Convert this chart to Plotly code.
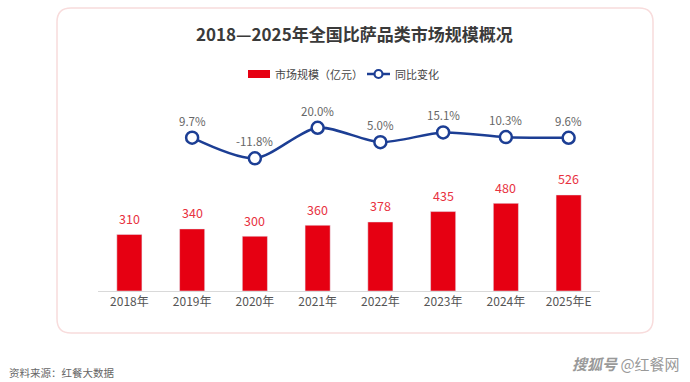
import plotly.graph_objects as go

years = ["2018年", "2019年", "2020年", "2021年", "2022年", "2023年", "2024年", "2025年E"]
market = [310, 340, 300, 360, 378, 435, 480, 526]
yoy_years = ["2019年", "2020年", "2021年", "2022年", "2023年", "2024年", "2025年E"]
yoy = [9.7, -11.8, 20.0, 5.0, 15.1, 10.3, 9.6]

W, H = 690, 382
L, R, T, B = 98, 90, 95, 91
PW, PH = W - L - R, H - T - B

def px(x):
    return (x - L) / PW

def py(y):
    return (H - B - y) / PH

FONT = "Noto Sans CJK SC, Noto Sans, sans-serif"
RED = "#e60012"
BLUE = "#1c3e94"

fig = go.Figure()
fig.add_trace(go.Bar(
    x=years, y=market, name="市场规模（亿元）",
    marker=dict(color=RED), width=0.4, showlegend=False,
))
fig.add_trace(go.Scatter(
    x=yoy_years, y=yoy, name="同比变化", yaxis="y2",
    mode="lines+markers", showlegend=False,
    line=dict(color=BLUE, width=2.5, shape="spline", smoothing=0.8),
    marker=dict(size=12, color="white", line=dict(color=BLUE, width=2.5)),
    cliponaxis=False,
))

annotations = []
for c, v in zip(years, market):
    annotations.append(dict(x=c, y=v, xref="x", yref="y", text=str(v), showarrow=False,
                            yanchor="middle", yshift=16,
                            font=dict(color="#e8323f", size=12.5)))
for c, v in zip(yoy_years, yoy):
    annotations.append(dict(x=c, y=v, xref="x", yref="y2", text=f"{v:.1f}%", showarrow=False,
                            yanchor="middle", yshift=17,
                            font=dict(color="#666666", size=11.5)))

# rounded border box
x0, x1, y0, y1, r = px(57), px(653), py(8), py(333), 14
rx, ry = r / PW, r / PH
path = (f"M {x0+rx},{y0} L {x1-rx},{y0} Q {x1},{y0} {x1},{y0-ry} "
        f"L {x1},{y1+ry} Q {x1},{y1} {x1-rx},{y1} L {x0+rx},{y1} "
        f"Q {x0},{y1} {x0},{y1+ry} L {x0},{y0-ry} Q {x0},{y0} {x0+rx},{y0} Z")

shapes = [
    dict(type="path", xref="paper", yref="paper", path=path,
         line=dict(color="#f8dcdc", width=1.5), fillcolor="rgba(0,0,0,0)", layer="below"),
    dict(type="rect", xref="paper", yref="paper", x0=px(248), x1=px(270), y0=py(78), y1=py(70),
         line=dict(width=0), fillcolor=RED),
    dict(type="line", xref="paper", yref="paper", x0=px(367), x1=px(390), y0=py(74), y1=py(74),
         line=dict(color=BLUE, width=2.5)),
    dict(type="circle", xref="paper", yref="paper", x0=px(374.5), x1=px(382.5), y0=py(78), y1=py(70),
         line=dict(color=BLUE, width=2.2), fillcolor="white"),
]

annotations += [
    dict(text="市场规模（亿元）", xref="paper", yref="paper", x=px(273), y=py(74),
         xanchor="left", yanchor="middle", showarrow=False, font=dict(size=11, color="#444444")),
    dict(text="同比变化", xref="paper", yref="paper", x=px(393), y=py(74),
         xanchor="left", yanchor="middle", showarrow=False, font=dict(size=11, color="#444444")),
    dict(text="<b>2018—2025年全国比萨品类市场规模概况</b>", xref="paper", yref="paper",
         x=px(354), y=py(33), xanchor="center", yanchor="middle", showarrow=False,
         font=dict(size=17, color="#3a3a3a")),
    dict(text="资料来源：红餐大数据", xref="paper", yref="paper",
         x=px(7), y=py(372), xanchor="left", yanchor="middle", showarrow=False,
         font=dict(size=10.5, color="#666666")),
    dict(text="<i><b>搜狐号</b></i> @红餐网", xref="paper", yref="paper",
         x=px(682), y=py(363), xanchor="right", yanchor="middle", showarrow=False,
         font=dict(size=15, color="#999999")),
]

fig.update_layout(
    width=W, height=H,
    margin=dict(l=L, r=R, t=T, b=B),
    paper_bgcolor="white", plot_bgcolor="rgba(0,0,0,0)",
    font=dict(family=FONT),
    showlegend=False,
    xaxis=dict(type="category", range=[-0.5, 7.5], showgrid=False, zeroline=False,
               showline=True, linecolor="#d9d9d9", linewidth=1, ticks="",
               tickfont=dict(size=12, color="#555555")),
    yaxis=dict(range=[0, PH / 0.1826], visible=False, showgrid=False, zeroline=False),
    yaxis2=dict(range=[(147 - (H - B)) / 0.962, (147 - T) / 0.962], overlaying="y",
                visible=False, showgrid=False, zeroline=False),
    shapes=shapes,
    annotations=annotations,
)

fig.write_html("out.html", config={"displayModeBar": False},
               post_script="document.body.style.margin='0';document.body.style.overflow='hidden';")
